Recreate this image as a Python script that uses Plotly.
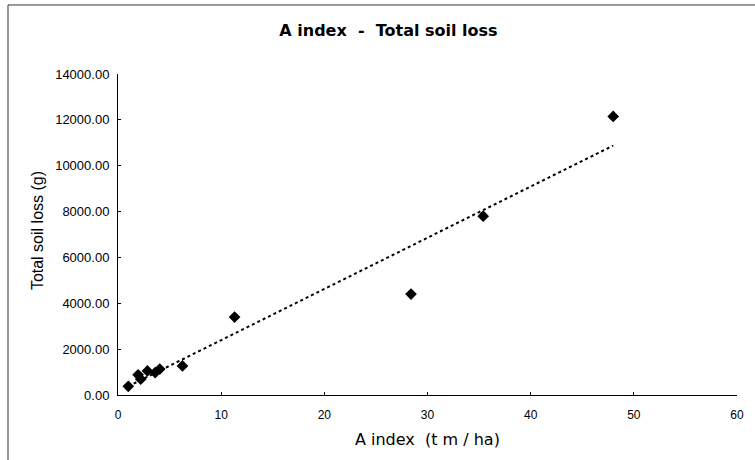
import numpy as np
import plotly.graph_objects as go

a_index = [1.0, 1.95, 2.2, 2.85, 3.6, 4.05, 6.25, 11.3, 28.4, 35.4, 48.0]
soil_loss = [380, 880, 690, 1050, 980, 1130, 1270, 3400, 4400, 7800, 12150]
x_ticks = [0, 10, 20, 30, 40, 50, 60]
y_ticks = [0, 2000, 4000, 6000, 8000, 10000, 12000, 14000]

slope, intercept = np.polyfit(a_index, soil_loss, 1)
trend_x = [min(a_index), max(a_index)]
trend_y = [slope * v + intercept for v in trend_x]

fig = go.Figure()
fig.add_trace(go.Scatter(x=trend_x, y=trend_y, mode="lines",
                         line=dict(color="black", width=2, dash="dot"),
                         showlegend=False, hoverinfo="skip"))
fig.add_trace(go.Scatter(x=a_index, y=soil_loss, mode="markers",
                         marker=dict(symbol="diamond", size=9, color="black"),
                         showlegend=False))

font = "Liberation Sans, Arial, sans-serif"
wide = "DejaVu Sans, Verdana, sans-serif"
fig.update_layout(
    width=755, height=460,
    margin=dict(l=118, r=18, t=74, b=65),
    paper_bgcolor="white", plot_bgcolor="white",
    font=dict(family=font, color="black", size=12),
    title=dict(text="<b>A index  -  Total soil loss</b>", x=0.5145, xanchor="center",
               y=0.935, yanchor="middle", font=dict(size=16, family=wide)),
    xaxis=dict(range=[0, 60], tickvals=x_ticks, ticktext=[str(t) for t in x_ticks],
               showgrid=False, zeroline=False, showline=True, linecolor="black",
               linewidth=1, ticks="inside", ticklen=3, tickcolor="black",
               ticklabelstandoff=9, tickfont=dict(size=12)),
    yaxis=dict(range=[0, 14000], tickvals=y_ticks,
               ticktext=[f"{t:.2f}" for t in y_ticks],
               showgrid=False, zeroline=False, showline=True, linecolor="black",
               linewidth=1, ticks="inside", ticklen=3, tickcolor="black",
               ticklabelstandoff=5, tickfont=dict(size=13)),
    annotations=[
        dict(text="A index  (t m / ha)", xref="paper", yref="paper",
             x=0.5, y=-0.14, xanchor="center", yanchor="middle",
             showarrow=False, font=dict(size=16, family=wide)),
        dict(text="Total soil loss (g)", xref="paper", yref="paper",
             x=-0.129, y=0.511, xanchor="center", yanchor="middle", textangle=-90,
             showarrow=False, font=dict(size=16, family=font)),
    ],
    shapes=[
        dict(type="line", xref="paper", yref="paper", x0=-0.1777, x1=1.03,
             y0=1.215, y1=1.215, line=dict(color="#333", width=1)),
        dict(type="line", xref="paper", yref="paper", x0=-0.1777, x1=-0.1777,
             y0=1.215, y1=-0.21, line=dict(color="#333", width=1)),
    ],
)

fig.write_html("out.html", config={"displayModeBar": False},
               post_script="document.body.style.margin='0';")
